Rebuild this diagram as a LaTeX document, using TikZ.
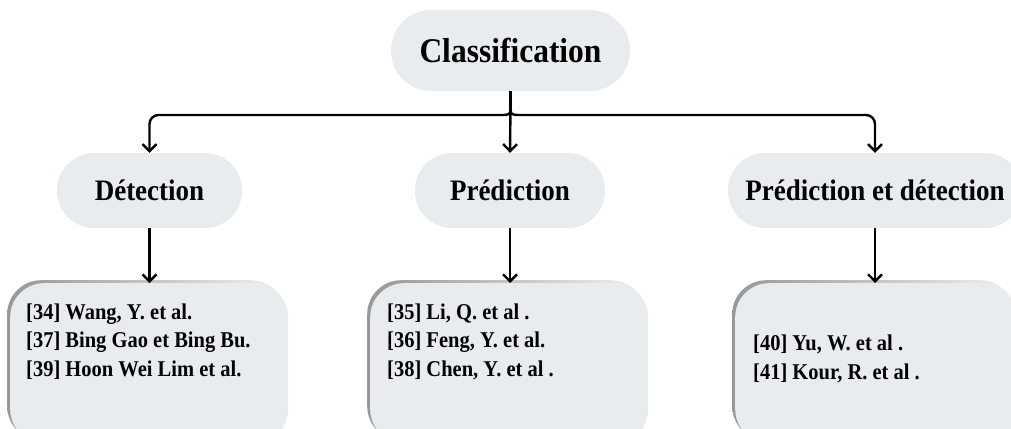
\documentclass[tikz,border=0pt]{standalone}
\usepackage{fontspec}
\usepackage{graphicx}
\setmainfont{Liberation Serif}
\usetikzlibrary{arrows.meta}
\definecolor{pillgray}{HTML}{E9ECEF}
\definecolor{shadowgray}{HTML}{979797}
% slightly tall lettering
\newcommand\tallText[1]{\scalebox{1}[1.1]{#1}}
\newcommand\refLines[1]{\tallText{\begin{tabular}{@{}l@{}}#1\end{tabular}}}
\begin{document}
\begin{tikzpicture}[x=1pt,y=-1pt,
  pill/.style={fill=pillgray, rounded corners=37pt, minimum height=75pt,
    inner sep=0pt, font=\bfseries\fontsize{27}{30}\selectfont},
  refbox/.style={fill=pillgray, rounded corners=34pt, inner sep=0pt,
    minimum height=160pt, anchor=north west,
    preaction={left color=shadowgray, right color=gray!12,
      transform canvas={shift={(-3pt,3pt)}}}},
  reftext/.style={anchor=west, inner sep=0pt,
    font=\bfseries\fontsize{20.5}{25.9}\selectfont},
  wire/.style={line width=2.4pt},
  link/.style={wire, -{Straight Barb[length=7pt,width=14pt,line width=2.4pt]}}
]
\useasboundingbox (0,0) rectangle (1011,428);
\clip (0,0) rectangle (1011,428);

% top node and the three categories
\node[pill, rounded corners=40pt, minimum width=239pt, minimum height=81pt,
  font=\bfseries\fontsize{31.5}{34}\selectfont] (C) at (510.5,50.5) {\tallText{Classification}};
\node[pill, minimum width=185pt] (D) at (149.5,190.5) {\tallText{Détection}};
\node[pill, minimum width=190pt] (P) at (510,190.5) {\tallText{Prédiction}};
\node[pill, minimum width=294pt] (PD) at (875,190.5) {\tallText{Prédiction et détection}};

% reference boxes
\node[refbox, minimum width=278pt] (L) at (10,283) {};
\node[refbox, minimum width=278pt] (M) at (370,283) {};
\node[refbox, minimum width=282pt] (R) at (735,283) {};

\node[reftext] (Lt) at (26,342) {\refLines{[34] Wang, Y. et al.\\\relax [37] Bing Gao et Bing Bu.\\\relax [39] Hoon Wei Lim et al.}};
\node[reftext] (Mt) at (387,342) {\refLines{[35] Li, Q. et al .\\\relax [36] Feng, Y. et al.\\\relax [38] Chen, Y. et al .}};
\node[reftext] (Rt) at (753,359.5) {\refLines{[40] Yu, W. et al .\\\relax [41] Kour, R. et al .}};

% brace-like split under the top node
\coordinate (j) at (510.5,106);
\draw[wire] (C.south) -- (j);
\draw[wire] (j) .. controls (510.5,115) .. (500,115);
\draw[wire] (j) .. controls (510.5,115) .. (521,115);
\draw[link, rounded corners=9pt] (500,115) -- (D.north |- 0,115) -- (D.north);
\draw[link, rounded corners=9pt] (521,115) -- (PD.north |- 0,115) -- (PD.north);
\draw[link] (j) -- (P.north);

% category to references
\draw[link] (D.south) -- (L.north -| D.south);
\draw[link] (P.south) -- (M.north -| P.south);
\draw[link] (PD.south) -- (R.north -| PD.south);
\end{tikzpicture}
\end{document}
